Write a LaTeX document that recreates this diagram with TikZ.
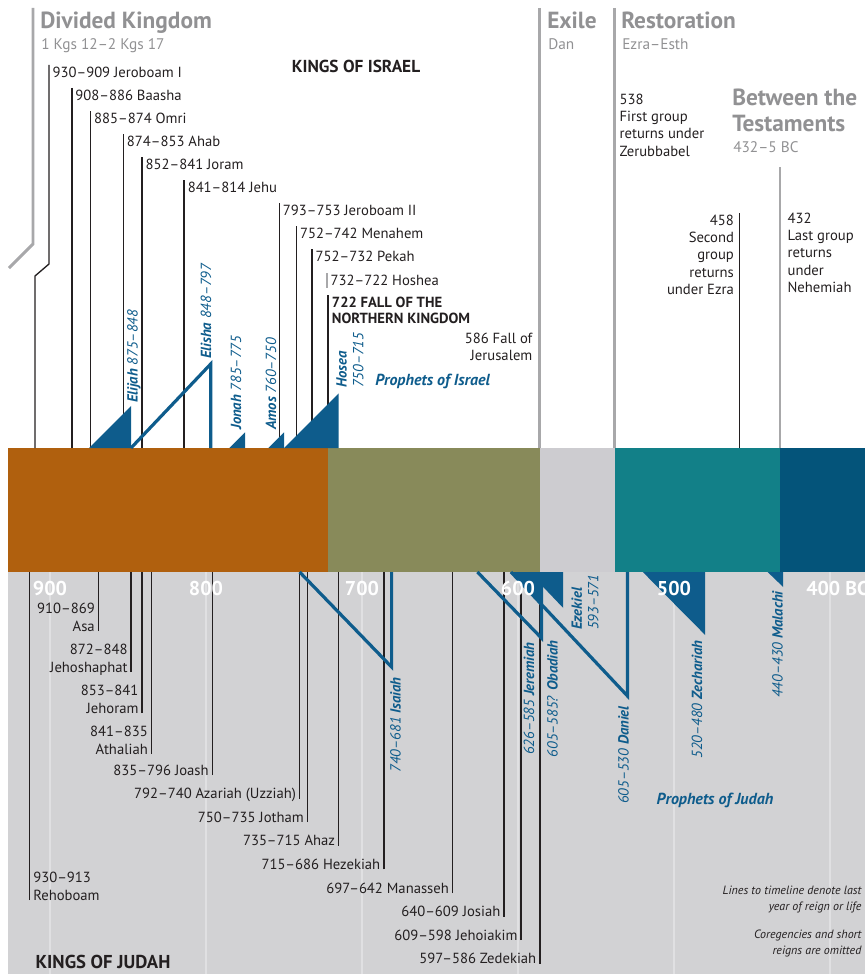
\documentclass[tikz,border=0pt]{standalone}
\usepackage{fontspec}
\setmainfont{PT Sans}
\definecolor{inkblack}{RGB}{35,31,32}
\definecolor{eragrey}{RGB}{145,145,147}
\definecolor{barline}{RGB}{168,168,170}
\definecolor{lowgrey}{RGB}{210,210,212}
\definecolor{gridfaint}{RGB}{224,224,226}
\definecolor{divbrown}{RGB}{176,96,14}
\definecolor{israelolive}{RGB}{136,138,90}
\definecolor{exilegrey}{RGB}{205,204,208}
\definecolor{restteal}{RGB}{18,128,136}
\definecolor{betweenblue}{RGB}{4,84,122}
\definecolor{prophblue}{RGB}{14,92,140}

\begin{document}
\begin{tikzpicture}[x=0.75pt, y=-0.75pt,
    kingline/.style={line width=1pt, color=inkblack},
    kinglbl/.style={font=\fontsize{11}{13}\selectfont, text=inkblack, inner sep=1pt},
    erabar/.style={line width=2.2pt, color=barline},
    eratitle/.style={font=\fontsize{17.5}{20}\selectfont\bfseries, text=eragrey, anchor=base west, inner sep=0pt},
    erasub/.style={font=\fontsize{11.5}{14}\selectfont, text=eragrey, anchor=base west, inner sep=0pt},
    prophline/.style={draw=prophblue, line width=2.4pt},
    prophlbl/.style={font=\fontsize{11}{12.5}\selectfont\itshape, text=prophblue, rotate=90, inner sep=0pt},
    yearlbl/.style={font=\fontsize{15}{17}\selectfont\bfseries, text=white, inner sep=0pt}]

    \useasboundingbox (0,0) rectangle (865,974);
    \coordinate (bandtop) at (0,448);
    \coordinate (bandbot) at (0,572);

    % 1. Backgrounds and the era band
    \fill[lowgrey] (8,572) rectangle (865,974);
    \foreach \k in {0,...,5} {
        \draw[color=gridfaint, line width=0.8pt] ({50+\k*156},572) -- ({50+\k*156},974);
    }
    \fill[divbrown] (8,448) rectangle (327.7,572);
    \fill[israelolive] (327.7,448) rectangle (539.8,572);
    \fill[exilegrey] (539.8,448) rectangle (614.7,572);
    \fill[restteal] (614.7,448) rectangle (780,572);
    \fill[betweenblue] (780,448) rectangle (865,572);

    % 2. Era headings
    \draw[erabar] (33,8) -- (33,244) -- (9,268);
    \node[eratitle] (divtitle) at (40,29) {Divided Kingdom};
    \node[erasub] (divsub) at (41,50) {1 Kgs 12–2 Kgs 17};
    \coordinate (exiletop) at (539.8,8);
    \draw[erabar] (exiletop) -- (exiletop |- bandtop);
    \node[eratitle] (exiletitle) at (547,29) {Exile};
    \node[erasub] (exilesub) at (548,50) {Dan};
    \coordinate (resttop) at (614.7,8);
    \draw[erabar] (resttop) -- (resttop |- bandtop);
    \node[eratitle] (resttitle) at (621,29) {Restoration};
    \node[erasub] (restsub) at (622,50) {Ezra–Esth};
    \node[eratitle, align=left, font=\fontsize{17.5}{20}\selectfont\bfseries] (betwtitle) at (732,132) {Between the\\Testaments};
    \node[erasub] (betwsub) at (733,152) {432–5 BC};

    % 3. Kings of Israel
    \node[kinglbl, font=\fontsize{13}{15}\selectfont\bfseries] (isrhead) at (356,66) {KINGS OF ISRAEL};
    \coordinate (isr0) at (49,65);
    \node[kinglbl, anchor=north west, xshift=1.5pt] (isrlbl0) at (isr0) {930–909 Jeroboam I};
    \draw[kingline] (isr0) -- ++(0,199) -- ++(-14,12) -- ++(0,172);
    \foreach \lastyr/\txt [count=\i] in {886/908–886 Baasha, 874/885–874 Omri, 853/874–853 Ahab,
        841/852–841 Joram, 814/841–814 Jehu, 753/793–753 Jeroboam II, 742/752–742 Menahem, 732/752–732 Pekah} {
        \pgfmathsetmacro{\xx}{50+(900-\lastyr)*1.56}
        \pgfmathsetmacro{\yy}{65+23*\i}
        \coordinate (isr\i) at (\xx,\yy);
        \node[kinglbl, anchor=north west, xshift=1.5pt] (isrlbl\i) at (isr\i) {\txt};
        \draw[kingline] (isr\i) -- (isr\i |- bandtop);
    }
    \coordinate (hoshea) at (327,273);
    \draw[color=barline, line width=1pt] (hoshea) -- ++(0,15);
    \node[kinglbl, anchor=north west, xshift=1.5pt] (hoshealbl) at (hoshea) {732–722 Hoshea};
    \coordinate (fallnorth) at (327.7,295);
    \node[kinglbl, anchor=north west, xshift=2pt, align=left, font=\fontsize{11}{12.5}\selectfont\bfseries] (fallnorthlbl) at (fallnorth) {722 FALL OF THE\\NORTHERN KINGDOM};
    \draw[kingline, line width=1.5pt] (fallnorth) -- (fallnorth |- bandtop);
    \node[kinglbl, anchor=north east, align=right] (falljer) at (534,331) {586 Fall of\\Jerusalem};

    % 4. Return from exile
    \node[kinglbl, anchor=north west, align=left] (firstgrp) at (618,92) {538\\First group\\returns under\\Zerubbabel};
    \coordinate (ezra) at (739.5,213);
    \node[kinglbl, anchor=north east, align=right, xshift=-3pt] (ezralbl) at (ezra) {458\\Second\\group\\returns\\under Ezra};
    \draw[kingline] (ezra) -- (ezra |- bandtop);
    \coordinate (nehem) at (780,167);
    \draw[erabar, line width=2pt] (nehem) -- (nehem |- bandtop);
    \node[kinglbl, anchor=north west, align=left] (nehemlbl) at (786,211) {432\\Last group\\returns\\under\\Nehemiah};

    % 5. Kings of Judah
    \coordinate (rehob) at (29.7,900);
    \node[kinglbl, anchor=base west, align=left, xshift=1.5pt] (rehoblbl) at (rehob) {930–913\\Rehoboam};
    \draw[kingline] (rehob) -- (rehob |- bandbot);
    \foreach \lastyr/\yy/\txt [count=\i] in {869/631/{910–869\\Asa}, 848/672/{872–848\\Jehoshaphat},
        841/713/{853–841\\Jehoram}, 835/754/{841–835\\Athaliah}} {
        \pgfmathsetmacro{\xx}{50+(900-\lastyr)*1.56}
        \coordinate (jud\i) at (\xx,\yy);
        \node[kinglbl, anchor=base east, align=right, xshift=-1.5pt] (judlbl\i) at (jud\i) {\txt};
        \draw[kingline] (jud\i) -- (jud\i |- bandbot);
    }
    \foreach \lastyr/\txt [count=\i] in {796/835–796 Joash, 740/792–740 Azariah (Uzziah), 735/750–735 Jotham,
        715/735–715 Ahaz, 686/715–686 Hezekiah, 642/697–642 Manasseh, 609/640–609 Josiah,
        598/609–598 Jehoiakim, 586/597–586 Zedekiah} {
        \pgfmathsetmacro{\xx}{50+(900-\lastyr)*1.56}
        \pgfmathsetmacro{\yy}{775+23.6*(\i-1)}
        \coordinate (judb\i) at (\xx,\yy);
        \node[kinglbl, anchor=base east, xshift=-1.5pt] (judblbl\i) at (judb\i) {\txt};
        \draw[kingline] (judb\i) -- (judb\i |- bandbot);
    }
    \node[kinglbl, anchor=base west, font=\fontsize{14}{16}\selectfont\bfseries] (judhead) at (34,968) {KINGS OF JUDAH};

    % 6. Prophets of Israel (above the band)
    \foreach \from/\to in {875/848, 785/775, 760/750, 750/715} {
        \pgfmathsetmacro{\xa}{50+(900-\from)*1.56}
        \pgfmathsetmacro{\xb}{50+(900-\to)*1.56}
        \fill[prophblue] (\xa,448) -- (\xb,448) -- (\xb,{448-(\xb-\xa)}) -- cycle;
    }
    \draw[prophline] (131,448) -- (210.7,364) -- (210.7,448);
    \node[prophlbl, anchor=west] (elijah) at (134,403) {\textbf{Elijah} 875–848};
    \node[prophlbl, anchor=west] (elisha) at (206,359) {\textbf{Elisha} 848–797};
    \node[prophlbl, anchor=west] (jonah) at (236,430) {\textbf{Jonah} 785–775};
    \node[prophlbl, anchor=west] (amos) at (271,430) {\textbf{Amos} 760–750};
    \node[prophlbl, anchor=west, align=left] (hosea) at (350,388) {\textbf{Hosea}\\750–715};
    \node[font=\fontsize{12}{14}\selectfont\bfseries\itshape, text=prophblue, anchor=west, inner sep=0pt] (propisr) at (375,381) {Prophets of Israel};

    % 7. Prophets of Judah (below the band)
    \draw[prophline] (299.6,572) -- (391.6,667) -- (391.6,572);
    \draw[prophline] (477.4,572) -- (541.4,638) -- (541.4,572);
    \draw[prophline] (511,572) -- (627.5,696) -- (627.5,572);
    \foreach \from/\to/\deep in {605/585/31, 593/571/36, 520/480/63, 440/430/15} {
        \pgfmathsetmacro{\xa}{50+(900-\from)*1.56}
        \pgfmathsetmacro{\xb}{50+(900-\to)*1.56}
        \fill[prophblue] (\xa,572) -- (\xb,572) -- (\xb,572+\deep) -- cycle;
    }
    \node[prophlbl, anchor=east] (isaiah) at (395.5,677) {740–681 \textbf{Isaiah}};
    \node[prophlbl, anchor=east] (jeremiah) at (529,642) {626–585 \textbf{Jeremiah}};
    \node[prophlbl, anchor=east] (obadiah) at (552.5,640) {605–585? \textbf{Obadiah}};
    \node[prophlbl, anchor=west, align=left] (ezekiel) at (585,630) {\textbf{Ezekiel}\\593–571};
    \node[prophlbl, anchor=east] (daniel) at (623.5,706) {605–530 \textbf{Daniel}};
    \node[prophlbl, anchor=east] (zechariah) at (697,640) {520–480 \textbf{Zechariah}};
    \node[prophlbl, anchor=east] (malachi) at (777.5,591) {440–430 \textbf{Malachi}};
    \node[font=\fontsize{12}{14}\selectfont\bfseries\itshape, text=prophblue, inner sep=0pt] (propjud) at (715,800) {Prophets of Judah};

    % 8. Timeline years and notes
    \foreach \yr in {900,800,700,600,500} {
        \node[yearlbl, anchor=base] (yr\yr) at ({50+(900-\yr)*1.56},595) {\yr};
    }
    \node[yearlbl, anchor=base west] (yr400) at (806,595) {400 BC};
    \node[kinglbl, anchor=north east, align=right, font=\fontsize{9}{12.5}\selectfont\itshape] (note1) at (863,884) {Lines to timeline denote last\\year of reign or life};
    \node[kinglbl, anchor=north east, align=right, font=\fontsize{9}{12.5}\selectfont\itshape] (note2) at (863,928) {Coregencies and short\\reigns are omitted};

\end{tikzpicture}
\end{document}
